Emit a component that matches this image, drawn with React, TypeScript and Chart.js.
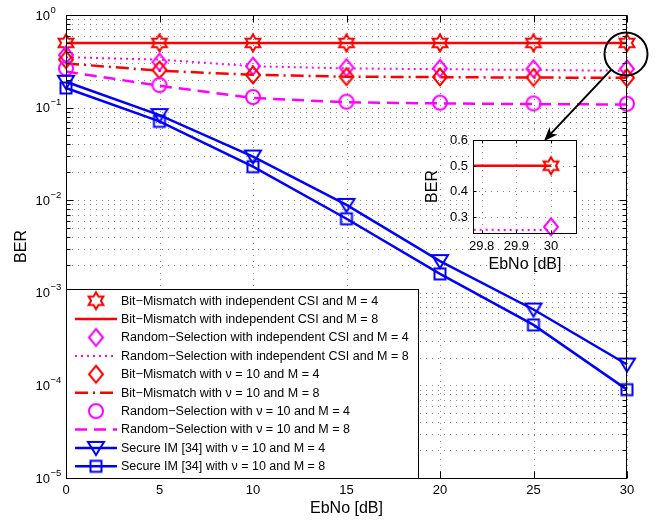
import { useEffect, useRef } from "react";
import { Chart, registerables } from "chart.js";

Chart.register(...registerables);

// ---------- data ----------
const ebNo = [0, 5, 10, 15, 20, 25, 30];
const bitMismatchIndepM4 = [0.5, 0.5, 0.5, 0.5, 0.5, 0.5, 0.5];
const bitMismatchIndepM8 = [0.5, 0.5, 0.5, 0.5, 0.5, 0.5, 0.5];
const randSelIndepM4 = [0.37, 0.31, 0.28, 0.27, 0.265, 0.262, 0.262];
const randSelIndepM8 = [0.35, 0.33, 0.28, 0.265, 0.26, 0.255, 0.25];
const bitMismatchNuM4 = [0.33, 0.255, 0.225, 0.216, 0.214, 0.212, 0.21];
const bitMismatchNuM8 = [0.3, 0.25, 0.226, 0.216, 0.213, 0.211, 0.21];
const randSelNuM4 = [0.265, 0.175, 0.13, 0.116, 0.113, 0.111, 0.11];
const randSelNuM8 = [0.245, 0.172, 0.127, 0.114, 0.111, 0.109, 0.108];
const secureImM4 = [0.19, 0.083, 0.0296, 0.0089, 0.0022, 0.00066, 0.000168];
const secureImM8 = [0.163, 0.071, 0.023, 0.0063, 0.0016, 0.00045, 0.00009];

const seriesValues = [
  bitMismatchIndepM4,
  bitMismatchIndepM8,
  randSelIndepM4,
  randSelIndepM8,
  bitMismatchNuM4,
  bitMismatchNuM8,
  randSelNuM4,
  randSelNuM8,
  secureImM4,
  secureImM8,
];

const seriesLabels = [
  "Bit\u2212Mismatch with independent CSI and M = 4",
  "Bit\u2212Mismatch with independent CSI and M = 8",
  "Random\u2212Selection with independent CSI and M = 4",
  "Random\u2212Selection with independent CSI and M = 8",
  "Bit\u2212Mismatch with \u03bd = 10 and M = 4",
  "Bit\u2212Mismatch with \u03bd = 10 and M = 8",
  "Random\u2212Selection with \u03bd = 10 and M = 4",
  "Random\u2212Selection with \u03bd = 10 and M = 8",
  "Secure IM [34] with \u03bd = 10 and M = 4",
  "Secure IM [34] with \u03bd = 10 and M = 8",
];

const xTickValues = [0, 5, 10, 15, 20, 25, 30];
const yTickExponents = [0, -1, -2, -3, -4, -5];
const insetXTickValues = [29.8, 29.9, 30];
const insetYTickValues = [0.3, 0.4, 0.5, 0.6];
const xTitle = "EbNo [dB]";
const yTitle = "BER";

// ---------- styles ----------
const RED = "#ff0000";
const MAG = "#ff00ff";
const BLUE = "#0000ff";
const FONT = '"Liberation Sans", Arial, Helvetica, sans-serif';

type Style = { color: string; marker: string | null; line: boolean; dash?: number[]; width?: number };
const styles: Style[] = [
  { color: RED, marker: "hexagram", line: false },
  { color: RED, marker: null, line: true, dash: [], width: 2.5 },
  { color: MAG, marker: "diamond", line: false },
  { color: MAG, marker: null, line: true, dash: [2, 4], width: 2 },
  { color: RED, marker: "diamond", line: false },
  { color: RED, marker: null, line: true, dash: [13, 5, 2, 5], width: 2.5 },
  { color: MAG, marker: "circle", line: false },
  { color: MAG, marker: null, line: true, dash: [12, 7], width: 2.5 },
  { color: BLUE, marker: "triv", line: true, dash: [], width: 2.5 },
  { color: BLUE, marker: "square", line: true, dash: [], width: 2.5 },
];

function makeMarker(kind: string, color: string): HTMLCanvasElement {
  const c = document.createElement("canvas");
  c.width = 26;
  c.height = 26;
  const g = c.getContext("2d")!;
  g.translate(13, 13);
  g.strokeStyle = color;
  g.lineWidth = 2;
  g.lineJoin = "miter";
  g.beginPath();
  if (kind === "hexagram") {
    const R = 8.5;
    const r = R / Math.sqrt(3);
    for (let i = 0; i < 12; i++) {
      const rad = i % 2 === 0 ? R : r;
      const ang = -Math.PI / 2 + (i * Math.PI) / 6;
      const px = rad * Math.cos(ang);
      const py = rad * Math.sin(ang);
      if (i === 0) g.moveTo(px, py);
      else g.lineTo(px, py);
    }
  } else if (kind === "diamond") {
    g.moveTo(0, -8.5);
    g.lineTo(7, 0);
    g.lineTo(0, 8.5);
    g.lineTo(-7, 0);
  } else if (kind === "circle") {
    g.arc(0, 0, 7, 0, Math.PI * 2);
  } else if (kind === "triv") {
    g.moveTo(-8, -6);
    g.lineTo(8, -6);
    g.lineTo(0, 7);
  } else if (kind === "square") {
    g.rect(-5.5, -5.5, 11, 11);
  }
  g.closePath();
  g.stroke();
  return c;
}

function buildDatasets(indices: number[], markers: (HTMLCanvasElement | null)[], clip: any) {
  return indices.map((i) => {
    const s = styles[i];
    const img = markers[i];
    return {
      label: seriesLabels[i],
      data: ebNo.map((x, k) => ({ x, y: seriesValues[i][k] })),
      showLine: s.line,
      borderColor: s.color,
      backgroundColor: s.color,
      borderWidth: s.width ?? 0,
      borderDash: s.dash ?? [],
      borderCapStyle: "butt",
      borderJoinStyle: "miter",
      pointStyle: img ?? "circle",
      pointRadius: img ? 8 : 0,
      pointHoverRadius: img ? 8 : 0,
      tension: 0,
      clip,
      order: styles.length - i,
    };
  });
}

function line(ctx: CanvasRenderingContext2D, x1: number, y1: number, x2: number, y2: number) {
  ctx.beginPath();
  ctx.moveTo(x1, y1);
  ctx.lineTo(x2, y2);
  ctx.stroke();
}

const INSET_LEFT = 400;
const INSET_TOP = 120;
const ARROW_TIP = { x: 544, y: 141 };

export default function App() {
  const mainRef = useRef<HTMLCanvasElement | null>(null);
  const insetRef = useRef<HTMLCanvasElement | null>(null);

  useEffect(() => {
    document.body.style.margin = "0";
    const markers = styles.map((s) => (s.marker ? makeMarker(s.marker, s.color) : null));

    const mainPlugin = {
      id: "matlabMain",
      beforeDatasetsDraw(chart: any) {
        const { ctx, chartArea: a, scales } = chart;
        const x = scales.x;
        const y = scales.y;
        ctx.save();
        ctx.strokeStyle = "#8c8c8c";
        ctx.lineWidth = 1;
        ctx.setLineDash([1, 5]);
        for (const v of xTickValues) {
          const px = Math.round(x.getPixelForValue(v)) + 0.5;
          line(ctx, px, a.top, px, a.bottom);
        }
        for (const e of yTickExponents) {
          if (e === 0) continue;
          for (let m = 1; m <= 9; m++) {
            const py = Math.round(y.getPixelForValue(m * Math.pow(10, e))) + 0.5;
            line(ctx, a.left, py, a.right, py);
          }
        }
        ctx.restore();
      },
      afterDatasetsDraw(chart: any) {
        const { ctx, chartArea: a, scales } = chart;
        const x = scales.x;
        const y = scales.y;
        ctx.save();
        ctx.setLineDash([]);
        ctx.strokeStyle = "#000";
        ctx.lineWidth = 1;
        const L = a.left + 0.5;
        const R = a.right - 0.5;
        const T = a.top + 0.5;
        const B = a.bottom + 0.5;
        // ticks
        for (const v of xTickValues) {
          const px = Math.round(x.getPixelForValue(v)) + 0.5;
          line(ctx, px, B, px, B - 7);
          line(ctx, px, T, px, T + 7);
        }
        for (const e of yTickExponents) {
          for (let m = 1; m <= 9; m++) {
            if (e === 0 && m > 1) continue;
            const py = Math.round(y.getPixelForValue(m * Math.pow(10, e))) + 0.5;
            const len = m === 1 ? 7 : 4;
            line(ctx, L, py, L + len, py);
            line(ctx, R, py, R - len, py);
          }
        }
        // frame
        ctx.strokeRect(L, T, R - L, B - T);

        // tick labels
        ctx.fillStyle = "#000";
        ctx.font = `13px ${FONT}`;
        ctx.textAlign = "center";
        ctx.textBaseline = "middle";
        for (const v of xTickValues) {
          ctx.fillText(String(v), x.getPixelForValue(v), 490);
        }
        for (const e of yTickExponents) {
          const py = y.getPixelForValue(Math.pow(10, e));
          ctx.font = `13px ${FONT}`;
          ctx.textAlign = "right";
          ctx.fillText("10", 50, py + 1);
          ctx.font = `9.5px ${FONT}`;
          ctx.textAlign = "left";
          ctx.fillText(e === 0 ? "0" : "\u2212" + String(-e), 50.5, py - 5);
        }
        // axis titles
        ctx.font = `16px ${FONT}`;
        ctx.textAlign = "center";
        ctx.fillText(xTitle, (a.left + a.right) / 2, 509);
        ctx.save();
        ctx.translate(22, (a.top + a.bottom) / 2);
        ctx.rotate(-Math.PI / 2);
        ctx.fillText(yTitle, 0, 0);
        ctx.restore();

        // legend
        const lgTop = 289;
        const lgRight = 418;
        ctx.fillStyle = "#fff";
        ctx.fillRect(L, lgTop + 0.5, lgRight - L, B - lgTop - 0.5);
        ctx.strokeStyle = "#000";
        ctx.lineWidth = 1;
        ctx.strokeRect(L, lgTop + 0.5, lgRight + 0.5 - L, B - lgTop - 0.5);
        ctx.font = `12.5px ${FONT}`;
        ctx.textAlign = "left";
        ctx.textBaseline = "middle";
        for (let i = 0; i < seriesLabels.length; i++) {
          const cy = lgTop + 11.7 + i * 18.4;
          const s = styles[i];
          if (s.line) {
            ctx.save();
            ctx.strokeStyle = s.color;
            ctx.lineWidth = s.width ?? 2;
            ctx.lineCap = "butt";
            ctx.setLineDash(s.dash ?? []);
            line(ctx, 75, cy, 117, cy);
            ctx.restore();
          }
          const mk = markers[i];
          if (mk) ctx.drawImage(mk, 96 - 13, cy - 13);
          ctx.fillStyle = "#000";
          ctx.fillText(seriesLabels[i], 121, cy + 0.5);
        }

        // annotation: circle + arrow
        const cx = x.getPixelForValue(30) - 1;
        const cyc = y.getPixelForValue(0.38);
        const rr = 21.5;
        ctx.strokeStyle = "#000";
        ctx.lineWidth = 2;
        ctx.beginPath();
        ctx.arc(cx, cyc, rr, 0, Math.PI * 2);
        ctx.stroke();
        const dx = ARROW_TIP.x - cx;
        const dy = ARROW_TIP.y - cyc;
        const len = Math.hypot(dx, dy);
        const ux = dx / len;
        const uy = dy / len;
        const sx = cx + ux * rr;
        const sy = cyc + uy * rr;
        const headLen = 14;
        const headW = 5.5;
        const bx = ARROW_TIP.x - ux * headLen;
        const by = ARROW_TIP.y - uy * headLen;
        line(ctx, sx, sy, ARROW_TIP.x - ux * 6, ARROW_TIP.y - uy * 6);
        ctx.fillStyle = "#000";
        ctx.beginPath();
        ctx.moveTo(ARROW_TIP.x, ARROW_TIP.y);
        ctx.lineTo(bx - uy * headW, by + ux * headW);
        ctx.lineTo(ARROW_TIP.x - ux * 10, ARROW_TIP.y - uy * 10);
        ctx.lineTo(bx + uy * headW, by - ux * headW);
        ctx.closePath();
        ctx.fill();
        ctx.restore();
      },
    };

    const insetPlugin = {
      id: "matlabInset",
      beforeDatasetsDraw(chart: any) {
        const { ctx, chartArea: a, scales } = chart;
        const x = scales.x;
        const y = scales.y;
        ctx.save();
        ctx.fillStyle = "#fff";
        ctx.fillRect(a.left, a.top, a.right - a.left, a.bottom - a.top);
        ctx.strokeStyle = "#8c8c8c";
        ctx.lineWidth = 1;
        ctx.setLineDash([1, 5]);
        for (const v of insetXTickValues) {
          const px = Math.round(x.getPixelForValue(v)) + 0.5;
          line(ctx, px, a.top, px, a.bottom);
        }
        for (const v of insetYTickValues) {
          const py = Math.round(y.getPixelForValue(v)) + 0.5;
          line(ctx, a.left, py, a.right, py);
        }
        ctx.restore();
      },
      afterDatasetsDraw(chart: any) {
        const { ctx, chartArea: a, scales } = chart;
        const x = scales.x;
        const y = scales.y;
        ctx.save();
        ctx.setLineDash([]);
        ctx.strokeStyle = "#000";
        ctx.lineWidth = 1;
        const L = a.left + 0.5;
        const R = a.right - 0.5;
        const T = a.top + 0.5;
        const B = a.bottom + 0.5;
        for (const v of insetXTickValues) {
          const px = Math.round(x.getPixelForValue(v)) + 0.5;
          line(ctx, px, B, px, B - 3);
          line(ctx, px, T, px, T + 3);
        }
        for (const v of insetYTickValues) {
          const py = Math.round(y.getPixelForValue(v)) + 0.5;
          line(ctx, L, py, L + 3, py);
          line(ctx, R, py, R - 3, py);
        }
        ctx.strokeRect(L, T, R - L, B - T);
        ctx.fillStyle = "#000";
        ctx.font = `13px ${FONT}`;
        ctx.textBaseline = "middle";
        ctx.textAlign = "center";
        for (const v of insetXTickValues) {
          ctx.fillText(String(v), x.getPixelForValue(v), a.bottom + 13);
        }
        ctx.textAlign = "right";
        for (const v of insetYTickValues) {
          ctx.fillText(v.toFixed(1), a.left - 5, y.getPixelForValue(v) + 0.5);
        }
        ctx.font = `16px ${FONT}`;
        ctx.textAlign = "center";
        ctx.fillText(xTitle, (a.left + a.right) / 2, a.bottom + 32);
        ctx.save();
        ctx.translate(a.left - 40, (a.top + a.bottom) / 2);
        ctx.rotate(-Math.PI / 2);
        ctx.fillText(yTitle, 0, 0);
        ctx.restore();
        ctx.restore();
      },
    };

    const mainChart = new Chart(mainRef.current!, {
      type: "line",
      data: { datasets: buildDatasets(seriesLabels.map((_, i) => i), markers, false) as any },
      options: {
        responsive: false,
        animation: false,
        devicePixelRatio: 1,
        events: [],
        layout: { padding: { left: 66, top: 15, right: 30, bottom: 43 } },
        scales: {
          x: { type: "linear", min: 0, max: 30, display: false },
          y: { type: "logarithmic", min: 1e-5, max: 1, display: false },
        },
        plugins: { legend: { display: false }, tooltip: { enabled: false } },
      } as any,
      plugins: [mainPlugin],
    });

    const insetChart = new Chart(insetRef.current!, {
      type: "line",
      data: { datasets: buildDatasets([0, 1, 2, 3], markers, { left: 0, top: 0, right: 15, bottom: 12 }) as any },
      options: {
        responsive: false,
        animation: false,
        devicePixelRatio: 1,
        events: [],
        layout: { padding: { left: 73, top: 20, right: 23, bottom: 47 } },
        scales: {
          x: { type: "linear", min: 29.775, max: 30.075, display: false },
          y: { type: "linear", min: 0.238, max: 0.6, display: false },
        },
        plugins: { legend: { display: false }, tooltip: { enabled: false } },
      } as any,
      plugins: [insetPlugin],
    });

    return () => {
      mainChart.destroy();
      insetChart.destroy();
    };
  }, []);

  return (
    <div style={{ position: "relative", width: 657, height: 521, background: "#fff" }}>
      <canvas
        ref={mainRef}
        width={657}
        height={521}
        style={{ position: "absolute", left: 0, top: 0, width: 657, height: 521 }}
      />
      <canvas
        ref={insetRef}
        width={200}
        height={160}
        style={{ position: "absolute", left: INSET_LEFT, top: INSET_TOP, width: 200, height: 160 }}
      />
    </div>
  );
}
